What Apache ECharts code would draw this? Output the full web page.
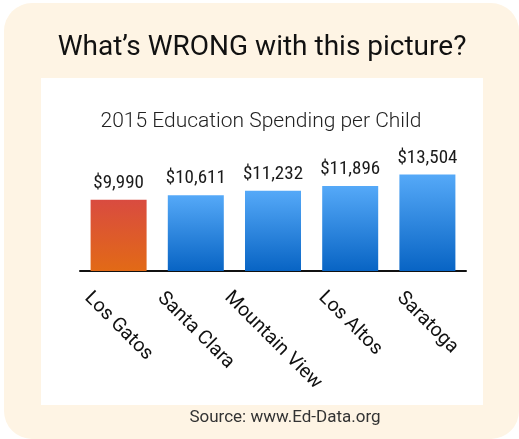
<!DOCTYPE html>
<html>
<head>
<meta charset="utf-8">
<script src="https://cdn.jsdelivr.net/npm/echarts@6/dist/echarts.min.js"></script>
<style>
  html, body { margin: 0; padding: 0; background: #fff; }
  #chart { width: 519px; height: 439px; }
</style>
</head>
<body>
<div id="chart"></div>
<script>
// data
const cities = ['Los Gatos', 'Santa Clara', 'Mountain View', 'Los Altos', 'Saratoga'];
const spending = [9990, 10611, 11232, 11896, 13504];
const highlightCity = 'Los Gatos';

const headline = 'What\u2019s WRONG with this picture?';
const chartTitle = '2015 Education Spending per Child';
const sourceNote = 'Source: www.Ed-Data.org';

const catSize = 19.5;

// rotated labels are centred under the bar with their top edge level,
// so shift each one by half its length (padding + lineHeight)
const ctx = document.createElement('canvas').getContext('2d');
ctx.font = catSize + 'px Roboto';
function catItem(name) {
  const len = ctx.measureText(name).width;
  const p = Math.round((len + catSize) / 2);
  return {
    value: name,
    textStyle: {
      align: 'center',
      verticalAlign: 'top',
      padding: [0, 0, 0, p],
      lineHeight: p
    }
  };
}

const orangeGrad = new echarts.graphic.LinearGradient(0, 0, 0, 1, [
  { offset: 0, color: '#d94b40' },
  { offset: 1, color: '#e26a16' }
]);
const blueGrad = new echarts.graphic.LinearGradient(0, 0, 0, 1, [
  { offset: 0, color: '#55a9f8' },
  { offset: 1, color: '#0864c4' }
]);

const myChart = echarts.init(document.getElementById('chart'), null, { renderer: 'canvas' });

const option = {
  animation: false,
  graphic: [
    {
      type: 'rect', z: -10, silent: true,
      shape: { x: 4, y: 3, width: 515, height: 436, r: 28 },
      style: { fill: '#fef4e4' }
    },
    {
      type: 'rect', z: -9, silent: true,
      shape: { x: 41, y: 78, width: 442, height: 327 },
      style: { fill: '#ffffff' }
    },
    {
      type: 'text', x: 262, y: 48,
      style: { text: headline, font: '28px Roboto', fill: '#111', align: 'center', verticalAlign: 'middle' }
    },
    {
      type: 'text', x: 261, y: 122,
      style: { text: chartTitle, font: '300 21px Roboto', fill: '#222', align: 'center', verticalAlign: 'middle' }
    },
    {
      type: 'text', x: 285, y: 418,
      style: { text: sourceNote, font: '17px Roboto', fill: '#333', align: 'center', verticalAlign: 'middle' }
    }
  ],
  grid: { left: 80, right: 53, top: 171, bottom: 168, containLabel: false },
  xAxis: {
    type: 'category',
    data: cities.map(catItem),
    axisLine: { lineStyle: { color: '#111', width: 2 } },
    axisTick: { show: false },
    axisLabel: {
      interval: 0,
      rotate: -45,
      margin: 17,
      color: '#111',
      fontSize: catSize,
      fontFamily: 'Roboto',
      hideOverlap: false
    }
  },
  yAxis: {
    type: 'value',
    min: 0,
    max: 14000,
    show: false
  },
  series: [
    {
      type: 'bar',
      barWidth: 56,
      data: spending.map((v, i) => ({
        value: v,
        itemStyle: { color: cities[i] === highlightCity ? orangeGrad : blueGrad }
      })),
      label: {
        show: true,
        position: 'top',
        distance: 7,
        color: '#1a1a1a',
        fontSize: 19,
        fontStyle: 'condensed',
        fontFamily: "'Roboto Condensed', Roboto",
        formatter: p => '$' + p.value.toLocaleString('en-US')
      }
    }
  ]
};

myChart.setOption(option, true);
window.addEventListener('resize', function () {
  myChart.resize();
});
</script>
</body>
</html>
